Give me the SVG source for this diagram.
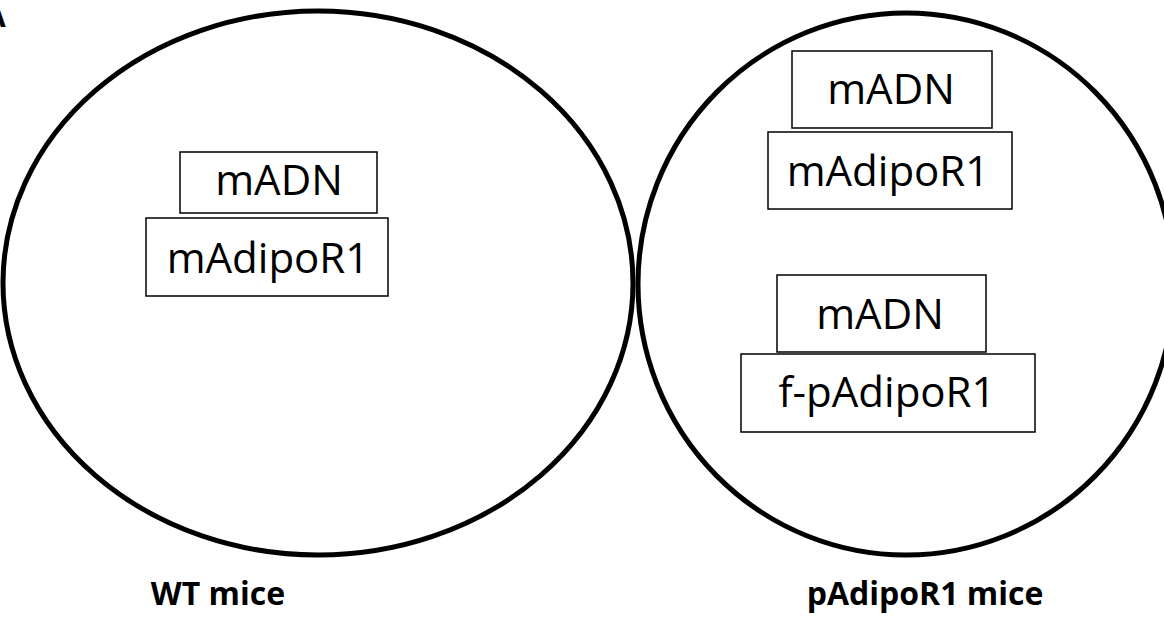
<svg xmlns="http://www.w3.org/2000/svg" width="1164" height="625" viewBox="0 0 1164 625">
<style>
.cell{fill:none;stroke:#000;stroke-width:5}
.box{fill:#fff;stroke:#000;stroke-width:1.5}
.t{font-family:"Open Sans","Liberation Sans",sans-serif;font-size:42px;fill:#000;text-anchor:middle}
.lbl{font-family:"Open Sans","Liberation Sans",sans-serif;font-size:32px;font-weight:bold;fill:#000;text-anchor:middle}
</style>
<rect width="1164" height="625" fill="#fff"/>
<text x="-15" y="27" class="lbl" style="font-size:30px;text-anchor:start">A</text>
<g id="wt-cell">
<ellipse class="cell" cx="318" cy="283" rx="315" ry="272"/>
</g>
<g id="p-cell">
<ellipse class="cell" cx="906" cy="284" rx="268" ry="271"/>
</g>
<g id="wt-madn"><rect class="box" x="180" y="152" width="197" height="61"/><text class="t" x="279" y="195">mADN</text></g>
<g id="wt-madipor1"><rect class="box" x="146" y="218" width="242" height="78"/><text class="t" x="268" y="273">mAdipoR1</text></g>
<g id="p-madn1"><rect class="box" x="792" y="51" width="200" height="77"/><text class="t" x="891" y="104">mADN</text></g>
<g id="p-madipor1"><rect class="box" x="768" y="132" width="244" height="77"/><text class="t" x="888" y="186">mAdipoR1</text></g>
<g id="p-madn2"><rect class="box" x="777" y="275" width="209" height="77"/><text class="t" x="880" y="329">mADN</text></g>
<g id="p-fpadipor1"><rect class="box" x="741" y="354" width="294" height="78"/><text class="t" x="887" y="407">f-pAdipoR1</text></g>
<g id="connectors"/>
<text class="lbl" x="218" y="605">WT mice</text>
<text class="lbl" x="925" y="605">pAdipoR1 mice</text>
</svg>
